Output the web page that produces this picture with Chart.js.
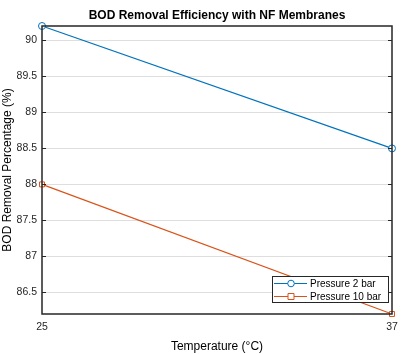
<!DOCTYPE html>
<html>
<head>
<meta charset="utf-8">
<script src="https://cdn.jsdelivr.net/npm/chart.js@4.4.0/dist/chart.umd.min.js"></script>
<style>
  html, body { margin: 0; padding: 0; background: #fff; }
  #wrap { width: 408px; height: 354px; }
</style>
</head>
<body>
<div id="wrap"><canvas id="bodChart" width="408" height="354"></canvas></div>
<script>
// data
const temperatures = [25, 37];
const pressure2bar = [90.2, 88.5];
const pressure10bar = [88.0, 86.2];
const yTicks = [86.5, 87, 87.5, 88, 88.5, 89, 89.5, 90];
const xTicks = [25, 37];

const seriesNames = ["Pressure 2 bar", "Pressure 10 bar"];
const chartTitle = "BOD Removal Efficiency with NF Membranes";

const FONT = "'Liberation Sans', Arial, sans-serif";
const INK = "#262626";

function toPoints(xs, ys) {
    return xs.map((x, i) => ({ x: x, y: ys[i] }));
}

// box, inside ticks, title and MATLAB-like legend
const matlabFrame = {
    id: "matlabFrame",
    afterDraw(chart) {
        const { ctx, chartArea: a, scales } = chart;
        ctx.save();

        // inside tick marks
        ctx.strokeStyle = INK;
        ctx.lineWidth = 1;
        ctx.beginPath();
        yTicks.forEach(v => {
            const y = Math.round(scales.y.getPixelForValue(v)) + 0.5;
            ctx.moveTo(a.left, y); ctx.lineTo(a.left + 4, y);
            ctx.moveTo(a.right, y); ctx.lineTo(a.right - 4, y);
        });
        ctx.stroke();

        // axes box
        ctx.lineWidth = 1.5;
        ctx.strokeRect(a.left, a.top, a.right - a.left, a.bottom - a.top);

        // title
        ctx.fillStyle = "#000";
        ctx.font = "bold 12px " + FONT;
        ctx.textAlign = "center";
        ctx.textBaseline = "middle";
        ctx.fillText(chartTitle, (a.left + a.right) / 2, 16);

        // legend
        const w = 116, h = 26;
        const lx = a.right - 4 - w, ly = a.bottom - 12 - h;
        ctx.fillStyle = "#fff";
        ctx.fillRect(lx, ly, w, h);
        ctx.strokeStyle = INK;
        ctx.lineWidth = 1;
        ctx.strokeRect(lx + 0.5, ly + 0.5, w, h);
        ctx.font = "10px " + FONT;
        ctx.textAlign = "left";
        chart.data.datasets.forEach((ds, i) => {
            const y = ly + 7.5 + i * 13;
            ctx.strokeStyle = ds.borderColor;
            ctx.beginPath();
            ctx.moveTo(lx + 2, y); ctx.lineTo(lx + 35, y);
            ctx.stroke();
            ctx.fillStyle = "#fff";
            ctx.beginPath();
            if (ds.pointStyle === "rect") {
                ctx.rect(lx + 16, y - 3, 6, 6);
            } else {
                ctx.arc(lx + 19, y, 3.3, 0, Math.PI * 2);
            }
            ctx.fill();
            ctx.stroke();
            ctx.fillStyle = "#000";
            ctx.fillText(ds.label, lx + 38, y + 1);
        });
        ctx.restore();
    }
};

new Chart(document.getElementById("bodChart"), {
    type: "line",
    data: {
        datasets: [
            {
                label: seriesNames[0],
                data: toPoints(temperatures, pressure2bar),
                borderColor: "#0072BD",
                backgroundColor: "#ffffff",
                borderWidth: 1.2,
                pointStyle: "circle",
                pointRadius: 3.5,
                pointBorderWidth: 1,
                tension: 0
            },
            {
                label: seriesNames[1],
                data: toPoints(temperatures, pressure10bar),
                borderColor: "#D95319",
                backgroundColor: "#ffffff",
                borderWidth: 1.2,
                pointStyle: "rect",
                pointRadius: 3.5,
                pointBorderWidth: 1,
                tension: 0
            }
        ]
    },
    options: {
        responsive: false,
        animation: false,
        clip: false,
        layout: { padding: { top: 26, right: 16, left: 0, bottom: 0 } },
        plugins: {
            legend: { display: false },
            title: { display: false },
            tooltip: { enabled: false }
        },
        scales: {
            x: {
                type: "linear",
                min: 25,
                max: 37,
                afterBuildTicks: s => { s.ticks = xTicks.map(v => ({ value: v })); },
                afterFit: s => { s.height = 40; },
                grid: { display: false, drawTicks: false },
                border: { display: false },
                ticks: { color: INK, font: { family: FONT, size: 10.5 }, padding: 7, maxRotation: 0 },
                title: {
                    display: true,
                    text: "Temperature (°C)",
                    color: "#000",
                    font: { family: FONT, size: 12 },
                    padding: { top: 2, bottom: 0 }
                }
            },
            y: {
                type: "linear",
                min: 86.2,
                max: 90.2,
                afterBuildTicks: s => { s.ticks = yTicks.map(v => ({ value: v })); },
                afterFit: s => { s.width = 42; },
                grid: { color: "#dedede", lineWidth: 1, drawTicks: false },
                border: { display: false },
                ticks: {
                    color: INK,
                    font: { family: FONT, size: 10.5 },
                    padding: 5,
                    callback: v => String(v)
                },
                title: {
                    display: true,
                    text: "BOD Removal Percentage (%)",
                    color: "#000",
                    font: { family: FONT, size: 12 },
                    padding: { top: 0, bottom: 2 }
                }
            }
        }
    },
    plugins: [matlabFrame]
});
</script>
</body>
</html>
